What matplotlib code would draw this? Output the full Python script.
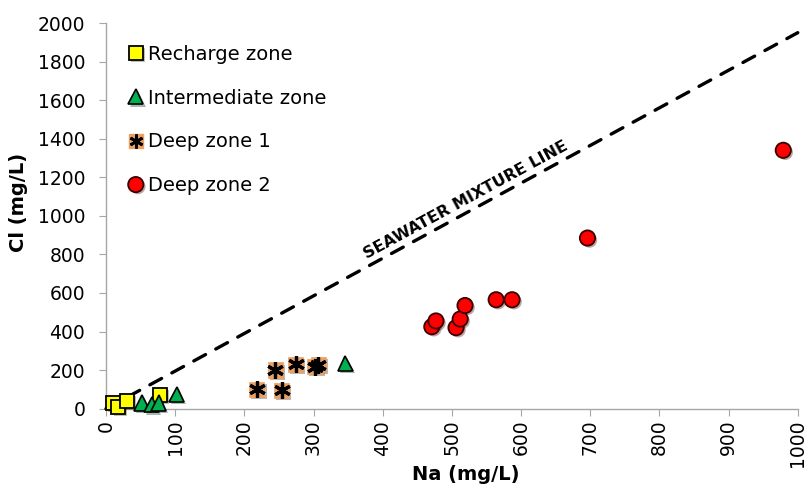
"""Cl vs Na scatter by aquifer zone with the seawater mixture line."""
import matplotlib

matplotlib.use("Agg")
import matplotlib.pyplot as plt
import matplotlib.patheffects as pe

recharge_na = [10, 18, 30, 78]
recharge_cl = [28, 10, 38, 70]

inter_na = [52, 66, 76, 102, 346]
inter_cl = [30, 20, 30, 75, 235]

deep1_na = [218, 245, 254, 274, 302, 307]
deep1_cl = [100, 200, 95, 230, 218, 228]

deep2_na = [471, 477, 506, 512, 519, 564, 587, 696, 979]
deep2_cl = [425, 455, 420, 465, 535, 565, 565, 885, 1340]

seawater_na = [0, 1000]
seawater_cl = [0, 1950]

xticks = list(range(0, 1001, 100))
yticks = list(range(0, 2001, 200))

plt.rcParams["font.family"] = "DejaVu Sans"

fig = plt.figure(figsize=(8.12, 4.94), dpi=100)
ax = fig.add_axes([0.1305, 0.1727, 0.852, 0.7807])

shadow = [pe.SimplePatchShadow(offset=(1.5, -1.5), alpha=0.35), pe.Normal()]

ax.plot(seawater_na, seawater_cl, color="black", lw=2.4,
        linestyle=(0, (4.0, 3.5)), dash_capstyle="round", zorder=2, clip_on=False)

ax.plot(recharge_na, recharge_cl, ls="none", marker="s", ms=10, mfc="#ffff00",
        mec="black", mew=1.3, label="Recharge zone", zorder=3, path_effects=shadow,
        clip_on=False)
ax.plot(inter_na, inter_cl, ls="none", marker="^", ms=11, mfc="#00b050",
        mec="black", mew=1.2, label="Intermediate zone", zorder=3, path_effects=shadow,
        clip_on=False)
ax.plot(deep1_na, deep1_cl, ls="none", marker="s", ms=11, mfc="#eba060",
        mec="#eba060", mew=0.5, zorder=3, path_effects=shadow, clip_on=False)
ax.plot(deep1_na, deep1_cl, ls="none", marker=(6, 2, 0), ms=12, mec="black",
        mew=2.3, zorder=4, clip_on=False)
ax.plot(deep2_na, deep2_cl, ls="none", marker="o", ms=11, mfc="#ff0000",
        mec="#3a0000", mew=1.3, label="Deep zone 2", zorder=3, path_effects=shadow,
        clip_on=False)

# legend handle for deep zone 1: square with asterisk on top
d1_sq, = ax.plot([], [], ls="none", marker="s", ms=10, mfc="#eba060", mec="#eba060")
d1_ast, = ax.plot([], [], ls="none", marker=(6, 2, 0), ms=10, mec="black", mew=2)

handles, labels = ax.get_legend_handles_labels()
handles.insert(2, (d1_sq, d1_ast))
labels.insert(2, "Deep zone 1")
ax.legend(handles, labels, loc="upper left", bbox_to_anchor=(0.015, 0.974),
          frameon=False, fontsize=14, labelspacing=1.28, handlelength=0.8,
          handletextpad=0.25, borderaxespad=0.2)

ax.text(520, 1080, "SEAWATER MIXTURE LINE", rotation=28.6, rotation_mode="anchor",
        ha="center", va="center", fontsize=11.5, fontweight="bold", family="DejaVu Sans")

ax.set_xlim(0, 1000)
ax.set_ylim(0, 2000)
ax.set_xticks(xticks)
ax.set_yticks(yticks)
ax.tick_params(axis="x", labelsize=13.5, labelrotation=90, direction="out",
               length=5, color="#a6a6a6", pad=3)
ax.tick_params(axis="y", labelsize=13.5, direction="out", length=5,
               color="#a6a6a6", pad=10)
for side in ("top", "right"):
    ax.spines[side].set_visible(False)
for side in ("left", "bottom"):
    ax.spines[side].set_color("#a6a6a6")
    ax.spines[side].set_linewidth(1.0)

ax.set_xlabel("Na (mg/L)", fontsize=14, fontweight="bold")
ax.set_ylabel("Cl (mg/L)", fontsize=14, fontweight="bold")
ax.xaxis.set_label_coords(0.52, -0.145)
ax.yaxis.set_label_coords(-0.112, 0.534)

fig.savefig("out.png", dpi=100)
plt.close(fig)
